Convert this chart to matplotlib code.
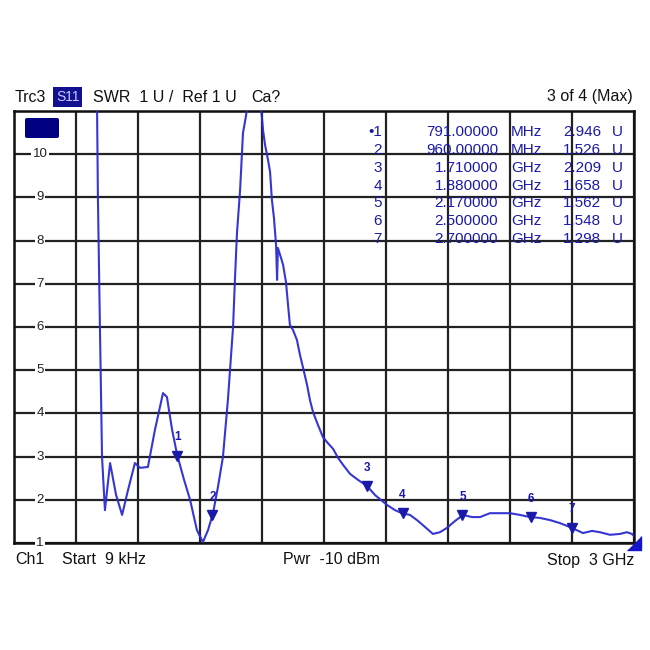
import numpy as np
import matplotlib
matplotlib.use("Agg")
import matplotlib.pyplot as plt
from matplotlib.patches import FancyBboxPatch

plt.rcParams['font.family'] = ['Liberation Sans', 'DejaVu Sans']

# ---- data (frequency in MHz, SWR in U) ----
freq_mhz = [397, 402, 406, 416, 426, 440, 465, 494, 523, 552, 585, 610, 648, 682,
            721, 740, 765, 789, 823, 852, 885, 914, 939, 963, 987, 1011, 1035, 1060,
            1069, 1079, 1094, 1108, 1123, 1127, 1161, 1195, 1205, 1215, 1229, 1239,
            1248, 1258, 1268, 1273, 1277, 1292, 1302, 1316, 1326, 1335, 1350, 1369,
            1384, 1398, 1418, 1432, 1447, 1471, 1495, 1519, 1544, 1568, 1592, 1626,
            1665, 1708, 1747, 1805, 1844, 1877, 1916, 1950, 1989, 2027, 2061, 2095,
            2134, 2173, 2216, 2255, 2303, 2352, 2400, 2448, 2497, 2545, 2594, 2642,
            2700, 2753, 2797, 2835, 2884, 2932, 2966, 2990, 3000]
swr = [11.25, 11.02, 9.01, 5.93, 2.99, 1.76, 2.85, 2.11, 1.65, 2.23, 2.85, 2.74, 2.76, 3.62,
       4.47, 4.38, 3.62, 3.05, 2.46, 2.00, 1.30, 1.02, 1.30, 1.69, 2.30, 2.99, 4.31, 6.00,
       7.09, 8.18, 9.17, 10.49, 10.90, 11.10, 12.0, 11.10, 10.56, 10.21, 9.87, 9.59,
       8.94, 8.52, 7.90, 7.09, 7.83, 7.60, 7.44, 7.04, 6.51, 6.05, 5.93, 5.70,
       5.35, 5.07, 4.66, 4.31, 4.03, 3.73, 3.45, 3.31, 3.18, 2.97, 2.81, 2.60,
       2.46, 2.32, 2.11, 1.88, 1.76, 1.69, 1.65, 1.53, 1.37, 1.21, 1.25, 1.35,
       1.51, 1.65, 1.60, 1.60, 1.69, 1.69, 1.69, 1.65, 1.60, 1.58, 1.53, 1.46,
       1.35, 1.23, 1.28, 1.25, 1.19, 1.21, 1.25, 1.21, 1.16]

marker_ids = ["1", "2", "3", "4", "5", "6", "7"]
marker_freq_mhz = [791, 960, 1710, 1880, 2170, 2500, 2700]
marker_freq_text = ["791.00000", "960.00000", "1.710000", "1.880000",
                    "2.170000", "2.500000", "2.700000"]
marker_unit_text = ["MHz", "MHz", "GHz", "GHz", "GHz", "GHz", "GHz"]
marker_value_text = ["2.946", "1.526", "2.209", "1.658", "1.562", "1.548", "1.298"]

y_tick_values = [1, 2, 3, 4, 5, 6, 7, 8, 9, 10]
start_mhz = 0.009
stop_mhz = 3000
ref_value = 1
y_top = 11

W = H = 650
TRACE = '#2b2bd0'
NAVY = '#1a1aa8'

fig = plt.figure(figsize=(6.5, 6.5), dpi=100)
fig.patch.set_facecolor('white')
ax = fig.add_axes([14 / W, (H - 543) / H, 620 / W, 432 / H])

ax.set_xlim(start_mhz, stop_mhz)
ax.set_ylim(ref_value, y_top)
ax.set_xticks(np.linspace(start_mhz, stop_mhz, 11))
ax.set_yticks(np.arange(ref_value, y_top + 1, 1))
ax.tick_params(length=0, labelbottom=False, labelleft=False)
ax.grid(True, color='#222222', linewidth=1.6, zorder=1)
ax.set_axisbelow(True)
for s in ax.spines.values():
    s.set_linewidth(1.8)
    s.set_color('#111111')

# y labels inside the plot with white background
for v in y_tick_values:
    ax.text(26 / 620, (v - ref_value) / (y_top - ref_value), str(v),
            transform=ax.transAxes, ha='center', va='center', fontsize=9.5,
            color='#222222', zorder=3,
            bbox=dict(facecolor='white', edgecolor='none', pad=1.0))

# trace
ax.plot(freq_mhz, swr, color=TRACE, linewidth=1.5, zorder=4, alpha=0.95)

# markers
mvals = np.interp(marker_freq_mhz, freq_mhz, swr)
ax.plot(marker_freq_mhz, mvals, linestyle='none', marker='v', markersize=7.5,
        color=NAVY, zorder=5)
for mid, mf, mv in zip(marker_ids, marker_freq_mhz, mvals):
    ax.annotate(mid, (mf, mv), xytext=(0, 9), textcoords='offset points',
                ha='center', va='bottom', fontsize=8.5, color=NAVY,
                fontweight='bold', zorder=6)

# reference arrow at right edge
ax.plot([stop_mhz], [ref_value], marker=[(-1, -1), (1, -1), (1, 1)],
        markersize=10, color='#1515c8', clip_on=False, zorder=6)

# navy box top-left
fig.patches.append(FancyBboxPatch((27 / W, (H - 136) / H), 30 / W, 16 / H,
                                  boxstyle='round,pad=0.002', transform=fig.transFigure,
                                  facecolor='#000080', edgecolor='#000080', zorder=5))

# marker table
rows_y = np.linspace(132, 239, 7)
for i in range(7):
    y = (H - rows_y[i]) / H
    label = ("\u2022" + marker_ids[i]) if i == 0 else marker_ids[i]
    fig.text(382 / W, y, label, ha='right', va='center', fontsize=11, color=NAVY)
    fig.text(498 / W, y, marker_freq_text[i], ha='right', va='center', fontsize=11, color=NAVY)
    fig.text(511 / W, y, marker_unit_text[i], ha='left', va='center', fontsize=11, color=NAVY)
    fig.text(601 / W, y, marker_value_text[i], ha='right', va='center', fontsize=11, color=NAVY)
    fig.text(612 / W, y, "U", ha='left', va='center', fontsize=11, color=NAVY)

# header
hy = (H - 97) / H
fig.text(15 / W, hy, "Trc3", ha='left', va='center', fontsize=11.5, color='#111111')
fig.text(56 / W, hy, "S11", ha='left', va='center', fontsize=10, color='#c8c8ff',
         bbox=dict(boxstyle='square,pad=0.2', facecolor='#101090', edgecolor='none'))
fig.text(93 / W, hy, "SWR  1 U /  Ref 1 U", ha='left', va='center', fontsize=11.5, color='#111111')
fig.text(251 / W, hy, "Ca?", ha='left', va='center', fontsize=11.5, color='#111111')
fig.text(633 / W, hy, "3 of 4 (Max)", ha='right', va='center', fontsize=11.5, color='#111111')

# footer
fy = (H - 560) / H
fig.text(15 / W, fy, "Ch1", ha='left', va='center', fontsize=11.5, color='#111111')
fig.text(62 / W, fy, "Start  9 kHz", ha='left', va='center', fontsize=11.5, color='#111111')
fig.text(331 / W, fy, "Pwr  -10 dBm", ha='center', va='center', fontsize=11.5, color='#111111')
fig.text(634 / W, fy, "Stop  3 GHz", ha='right', va='center', fontsize=11.5, color='#111111')

fig.savefig("out.png", dpi=100, facecolor='white')
